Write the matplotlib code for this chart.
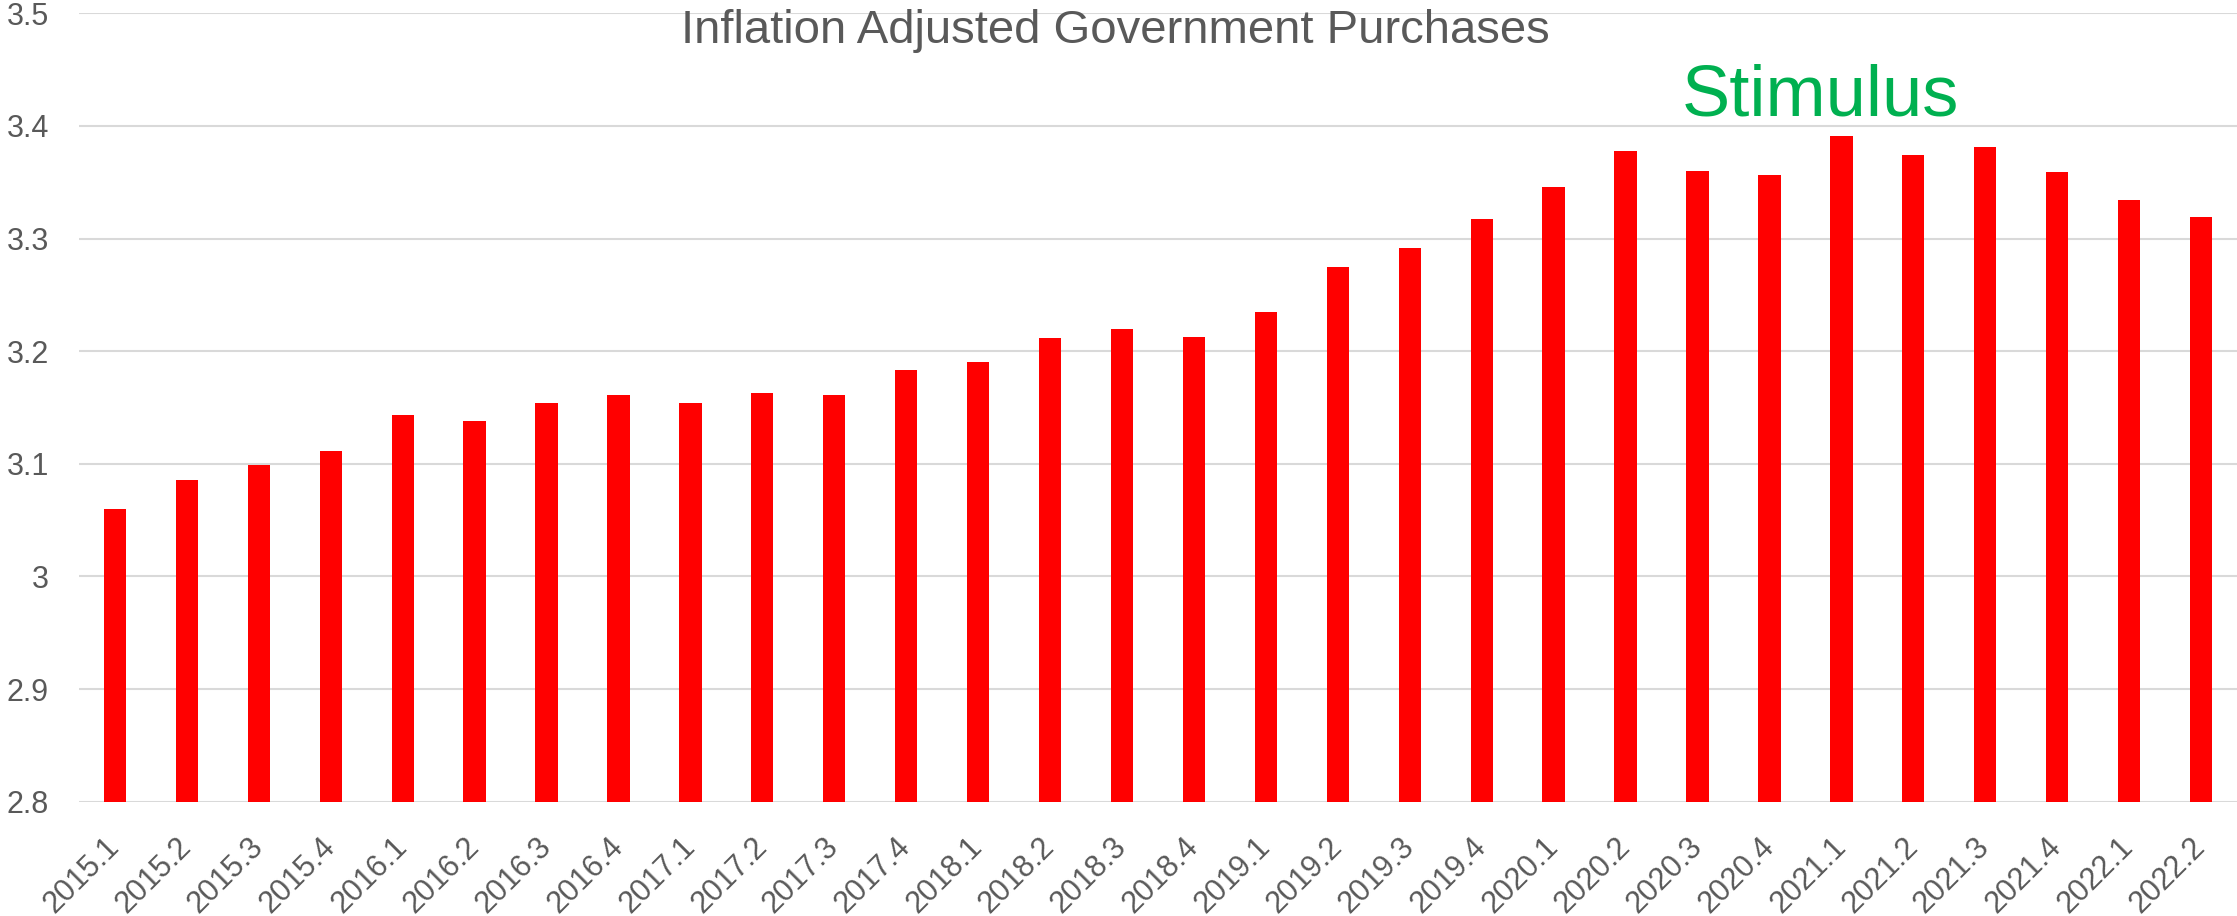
import numpy as np
import matplotlib
matplotlib.use("Agg")
import matplotlib.pyplot as plt
from matplotlib.ticker import FuncFormatter

plt.rcParams['font.family'] = ['Liberation Sans', 'DejaVu Sans']

# quarterly real government purchases
quarters = ["2015.1", "2015.2", "2015.3", "2015.4",
            "2016.1", "2016.2", "2016.3", "2016.4",
            "2017.1", "2017.2", "2017.3", "2017.4",
            "2018.1", "2018.2", "2018.3", "2018.4",
            "2019.1", "2019.2", "2019.3", "2019.4",
            "2020.1", "2020.2", "2020.3", "2020.4",
            "2021.1", "2021.2", "2021.3", "2021.4",
            "2022.1", "2022.2"]
purchases = [3.060, 3.086, 3.099, 3.111,
             3.143, 3.138, 3.154, 3.161,
             3.154, 3.163, 3.161, 3.183,
             3.190, 3.212, 3.220, 3.213,
             3.235, 3.275, 3.292, 3.317,
             3.346, 3.378, 3.360, 3.356,
             3.391, 3.374, 3.381, 3.359,
             3.334, 3.319]
y_ticks = [2.8, 2.9, 3.0, 3.1, 3.2, 3.3, 3.4, 3.5]

grey = "#595959"

fig = plt.figure(figsize=(22.37, 9.16), dpi=100)
ax = fig.add_axes([0.0353, 0.1248, 0.9647, 0.8607])

x = np.arange(len(quarters))
ax.bar(x, purchases, width=0.31, color="#FF0000", zorder=3)

ax.set_ylim(2.8, 3.5)
ax.set_xlim(-0.5, len(quarters) - 0.5)
ax.set_yticks(y_ticks)
ax.yaxis.set_major_formatter(FuncFormatter(lambda v, p: f"{v:g}"))
ax.set_xticks(x)
ax.set_xticklabels(quarters, rotation=45, ha="right", va="center",
                   rotation_mode="anchor")

ax.grid(axis="y", color="#D9D9D9", linewidth=1.5, zorder=0)
for s in ax.spines.values():
    s.set_visible(False)
ax.tick_params(axis="y", length=0, pad=21.5, labelsize=22, labelcolor=grey)
ax.tick_params(axis="x", length=0, pad=29.5, labelsize=22, labelcolor=grey)

fig.text(0.4985, 1 - 43.3 / 916, "Inflation Adjusted Government Purchases",
         ha="center", va="baseline", fontsize=34, color=grey)
ax.text(23.71, 3.409, "Stimulus", ha="center", va="baseline",
        fontsize=52, color="#00B050")

fig.savefig("out.png", dpi=100)
